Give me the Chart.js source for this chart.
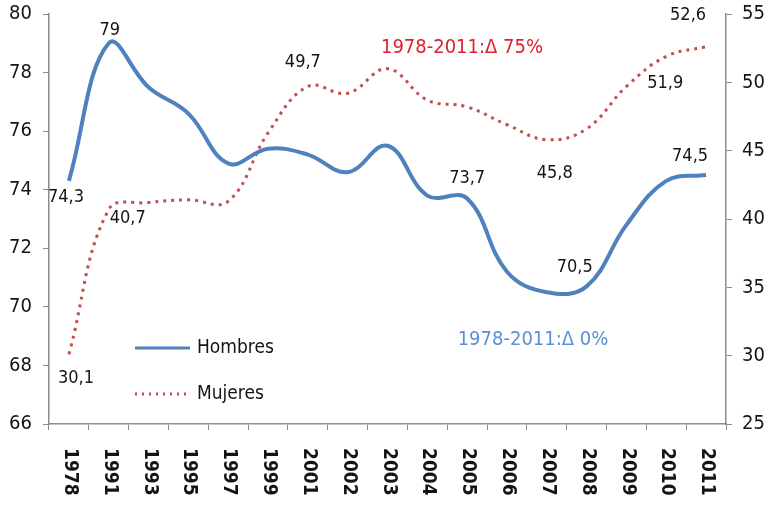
<!DOCTYPE html>
<html>
<head>
<meta charset="utf-8">
<script src="https://cdn.jsdelivr.net/npm/chart.js@4.4.0/dist/chart.umd.min.js"></script>
<style>
  html, body { margin: 0; padding: 0; background: #fff; }
  #wrap { width: 771px; height: 506px; position: relative; }
</style>
</head>
<body>
<div id="wrap"><canvas id="chart" width="771" height="506"></canvas></div>
<script>
// Data
const years = ['1978', '1991', '1993', '1995', '1997', '1999', '2001', '2002', '2003',
               '2004', '2005', '2006', '2007', '2008', '2009', '2010', '2011'];
const hombres = [74.3, 79.0, 77.5, 76.6, 74.9, 75.4, 75.2, 74.6, 75.5,
                 73.8, 73.7, 71.2, 70.5, 70.7, 72.8, 74.3, 74.5];
const mujeres = [30.1, 40.7, 41.2, 41.4, 41.3, 46.3, 49.7, 49.2, 51.0,
                 48.7, 48.2, 46.9, 45.8, 46.6, 49.7, 51.9, 52.6];
const leftTicks = [66, 68, 70, 72, 74, 76, 78, 80];
const rightTicks = [25, 30, 35, 40, 45, 50, 55];
// which points carry a value label
const hombresLabelled = [0, 1, 10, 12, 16];
const mujeresLabelled = [0, 1, 6, 12, 15, 16];

const FONT = "'DejaVu Sans Condensed', 'Liberation Sans Narrow', 'Liberation Sans', sans-serif";
const TEXT = '#141414';
const AXIS = '#8c8c8c';

// label offsets (px) from the point, by series and index
const labelOffsets = {
    h: { 0: [-3, 16], 1: [1, -13], 10: [0, -20], 12: [28, -25], 16: [-16, -19] },
    m: { 0: [7, 24], 1: [19, 9], 6: [-5, -24], 12: [8, 34], 15: [-1, 27], 16: [-18, -31] }
};

function fmt(v) {
    return Number.isInteger(v) ? String(v) : v.toFixed(1).replace('.', ',');
}

function fixVertical(width) {
    return s => {
        s.width = width;
        s.paddingTop = 0;
        s.paddingBottom = 0;
    };
}

const overlay = {
    id: 'overlay',
    afterDraw(chart) {
        const ctx = chart.ctx;
        const xs = chart.scales.x;
        const area = chart.chartArea;
        ctx.save();

        // rotated year labels (reading top to bottom)
        ctx.fillStyle = TEXT;
        ctx.font = 'bold 19px ' + FONT;
        ctx.textAlign = 'left';
        ctx.textBaseline = 'middle';
        years.forEach((y, i) => {
            const x = xs.getPixelForValue(i);
            ctx.save();
            ctx.translate(x + 1, area.bottom + 24);
            ctx.rotate(Math.PI / 2);
            ctx.fillText(y, 0, 0);
            ctx.restore();
        });

        // value labels
        ctx.font = '18px ' + FONT;
        ctx.textAlign = 'center';
        ctx.textBaseline = 'middle';
        ctx.fillStyle = TEXT;
        const metaH = chart.getDatasetMeta(0);
        const metaM = chart.getDatasetMeta(1);
        hombresLabelled.forEach(i => {
            const p = metaH.data[i];
            const o = labelOffsets.h[i];
            ctx.fillText(fmt(hombres[i]), p.x + o[0], p.y + o[1]);
        });
        mujeresLabelled.forEach(i => {
            const p = metaM.data[i];
            const o = labelOffsets.m[i];
            ctx.fillText(fmt(mujeres[i]), p.x + o[0], p.y + o[1]);
        });

        // annotations
        ctx.font = '20px ' + FONT;
        ctx.fillStyle = '#e0202c';
        ctx.fillText('1978-2011:\u0394 75%', 462, 48);
        ctx.fillStyle = '#5b8fd6';
        ctx.fillText('1978-2011:\u0394 0%', 533, 340);

        // legend
        ctx.lineWidth = 3;
        ctx.strokeStyle = '#4f81bd';
        ctx.beginPath();
        ctx.moveTo(135, 348);
        ctx.lineTo(190, 348);
        ctx.stroke();
        ctx.strokeStyle = '#c0504d';
        ctx.setLineDash([2, 5]);
        ctx.beginPath();
        ctx.moveTo(135, 394);
        ctx.lineTo(186, 394);
        ctx.stroke();
        ctx.setLineDash([]);
        ctx.fillStyle = TEXT;
        ctx.textAlign = 'left';
        ctx.font = '19px ' + FONT;
        ctx.fillText('Hombres', 197, 348);
        ctx.fillText('Mujeres', 197, 394);

        ctx.restore();
    }
};

new Chart(document.getElementById('chart'), {
    type: 'line',
    data: {
        labels: years,
        datasets: [
            {
                label: 'Hombres',
                data: hombres,
                yAxisID: 'y',
                borderColor: '#4f81bd',
                borderWidth: 4,
                tension: 0.4,
                pointRadius: 0,
                fill: false
            },
            {
                label: 'Mujeres',
                data: mujeres,
                yAxisID: 'y1',
                borderColor: '#c0504d',
                borderWidth: 3,
                borderDash: [3, 5],
                tension: 0.4,
                pointRadius: 0,
                fill: false
            }
        ]
    },
    options: {
        responsive: false,
        animation: false,
        layout: { padding: { top: 14, left: 0, right: 0, bottom: 0 } },
        plugins: {
            legend: { display: false },
            tooltip: { enabled: false }
        },
        scales: {
            x: {
                offset: true,
                grid: { display: true, offset: true, drawOnChartArea: false, drawTicks: true, tickLength: 6, color: AXIS },
                border: { color: AXIS, width: 1.5 },
                ticks: { display: false },
                afterFit: s => { s.height = 82; s.paddingLeft = 0; s.paddingRight = 0; }
            },
            y: {
                position: 'left',
                min: 66,
                max: 80,
                afterBuildTicks: s => { s.ticks = leftTicks.map(v => ({ value: v })); },
                grid: { display: true, drawOnChartArea: false, drawTicks: true, tickLength: 6, color: AXIS },
                border: { color: AXIS, width: 1.5 },
                ticks: { color: TEXT, font: { family: FONT, size: 20 }, padding: 11 },
                afterFit: fixVertical(49)
            },
            y1: {
                position: 'right',
                min: 25,
                max: 55,
                afterBuildTicks: s => { s.ticks = rightTicks.map(v => ({ value: v })); },
                grid: { display: true, drawOnChartArea: false, drawTicks: true, tickLength: 6, color: AXIS },
                border: { color: AXIS, width: 1.5 },
                ticks: { color: TEXT, font: { family: FONT, size: 20 }, padding: 10 },
                afterFit: fixVertical(45)
            }
        }
    },
    plugins: [overlay]
});
</script>
</body>
</html>
